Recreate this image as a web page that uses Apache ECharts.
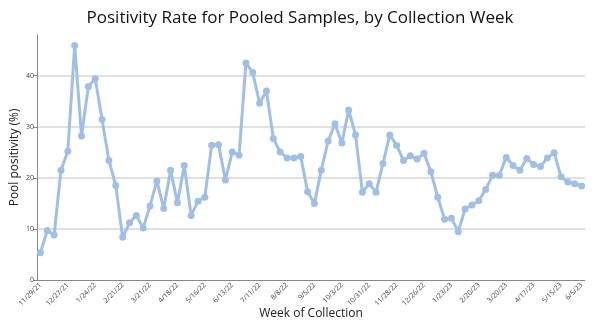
<!DOCTYPE html>
<html>
<head>
<meta charset="utf-8">
<script src="https://cdn.jsdelivr.net/npm/echarts@6/dist/echarts.min.js"></script>
<style>html,body{margin:0;padding:0;background:#fff}#c{width:600px;height:333px}</style>
</head>
<body>
<div id="c"></div>
<script>
const weeks = [
  "11/29/21","12/6/21","12/13/21","12/20/21","12/27/21",
  "1/3/22","1/10/22","1/17/22","1/24/22","1/31/22","2/7/22","2/14/22","2/21/22",
  "2/28/22","3/7/22","3/14/22","3/21/22","3/28/22","4/4/22","4/11/22","4/18/22",
  "4/25/22","5/2/22","5/9/22","5/16/22","5/23/22","5/30/22","6/6/22","6/13/22",
  "6/20/22","6/27/22","7/4/22","7/11/22","7/18/22","7/25/22","8/1/22","8/8/22",
  "8/15/22","8/22/22","8/29/22","9/5/22","9/12/22","9/19/22","9/26/22","10/3/22",
  "10/10/22","10/17/22","10/24/22","10/31/22","11/7/22","11/14/22","11/21/22","11/28/22",
  "12/5/22","12/12/22","12/19/22","12/26/22",
  "1/2/23","1/9/23","1/16/23","1/23/23","1/30/23","2/6/23","2/13/23","2/20/23",
  "2/27/23","3/6/23","3/13/23","3/20/23","3/27/23","4/3/23","4/10/23","4/17/23",
  "4/24/23","5/1/23","5/8/23","5/15/23","5/22/23","5/29/23","6/5/23"
];
const positivity = [
  5.35, 9.7, 8.8, 21.5, 25.2, 45.9, 28.2, 37.9, 39.4, 31.4,
  23.4, 18.5, 8.35, 11.2, 12.65, 10.2, 14.5, 19.4, 14.0, 21.5,
  15.1, 22.4, 12.65, 15.4, 16.2, 26.4, 26.5, 19.6, 25.05, 24.4,
  42.5, 40.6, 34.6, 37.0, 27.7, 25.05, 23.9, 23.9, 24.2, 17.3,
  15.0, 21.5, 27.2, 30.6, 26.8, 33.3, 28.4, 17.2, 18.85, 17.2,
  22.8, 28.4, 26.35, 23.4, 24.3, 23.7, 24.8, 21.2, 16.2, 11.9,
  12.1, 9.46, 13.9, 14.7, 15.5, 17.7, 20.5, 20.5, 24.0, 22.4,
  21.5, 23.8, 22.6, 22.2, 23.9, 24.9, 20.2, 19.2, 18.85, 18.4
];
const yTicks = [0, 10, 20, 30, 40];

const lastIdx = weeks.length - 1;
const showTick = (i) => i % 4 === 0 || i === lastIdx;
const font = '"Open Sans", "DejaVu Sans", sans-serif';

const chart = echarts.init(document.getElementById('c'), null, {renderer: 'canvas'});
chart.setOption({
  animation: false,
  backgroundColor: '#fff',
  title: {
    text: 'Positivity Rate for Pooled Samples, by Collection Week',
    left: 'center',
    top: 5,
    textStyle: {fontFamily: font, fontSize: 17, fontWeight: 'normal', color: '#111'}
  },
  grid: {left: 37, right: 15, top: 34.8, bottom: 53, containLabel: false, outerBoundsMode: 'none'},
  xAxis: {
    type: 'category',
    data: weeks,
    boundaryGap: true,
    name: 'Week of Collection',
    nameLocation: 'middle',
    nameGap: 28,
    nameMoveOverlap: false,
    nameTextStyle: {fontFamily: font, fontSize: 12, color: '#222'},
    axisLine: {lineStyle: {color: '#888', width: 1}},
    axisTick: {alignWithLabel: true, interval: (i) => showTick(i), length: 4, lineStyle: {color: '#888'}},
    axisLabel: {
      interval: (i) => showTick(i),
      rotate: 45,
      fontFamily: font,
      fontSize: 7,
      color: '#444',
      margin: 4
    },
    splitLine: {show: false}
  },
  yAxis: {
    type: 'value',
    min: yTicks[0],
    max: 48,
    interval: 10,
    name: 'Pool positivity (%)',
    nameLocation: 'middle',
    nameGap: 16,
    nameMoveOverlap: false,
    nameTextStyle: {fontFamily: font, fontSize: 12, color: '#222'},
    axisLine: {show: true, lineStyle: {color: '#888', width: 1}},
    axisTick: {show: true, length: 4, lineStyle: {color: '#888'}},
    axisLabel: {
      showMaxLabel: false,
      fontFamily: font,
      fontSize: 7,
      color: '#444',
      margin: 3
    },
    splitLine: {show: true, showMinLine: false, showMaxLine: false, lineStyle: {color: '#d6d6d6', width: 1.5}}
  },
  series: [{
    type: 'line',
    data: positivity,
    symbol: 'circle',
    symbolSize: 7,
    showAllSymbol: true,
    lineStyle: {color: '#a0bfe6', width: 3},
    itemStyle: {color: '#a0bfe6'}
  }]
});
</script>
</body>
</html>
